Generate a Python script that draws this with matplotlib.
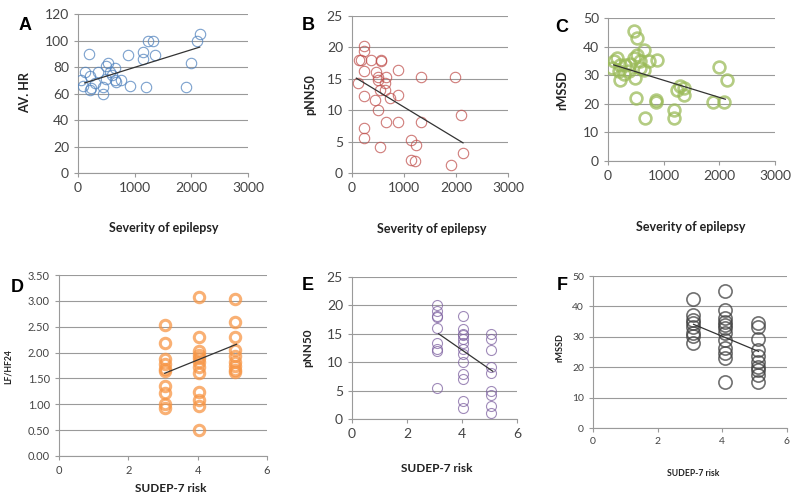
"""Six-panel HRV vs epilepsy severity / SUDEP-7 risk scatter figure."""
import numpy as np
import matplotlib
matplotlib.use("Agg")
import matplotlib.pyplot as plt

W, H = 800, 496
plt.rcParams.update({"font.family": ["Lato", "DejaVu Sans"], "font.size": 9})

# ---- data ----
a_sev = [200, 118, 60, 90, 206, 235, 206, 353, 440, 440, 500, 530, 500, 560, 650, 676, 650,
         765, 882, 910, 1205, 1147, 1147, 1235, 1323, 1353, 1912, 2000, 2106, 2147, 300, 600]
a_hr = [90, 76, 70, 66, 73, 64, 63, 76, 65, 60, 81, 83, 71, 76, 79, 69, 70,
        70, 89, 66, 65, 91, 86, 100, 100, 89, 65, 83, 100, 105, 68, 74]
a_trend = ([118, 2147], [68, 95])

b_sev = [231, 231, 128, 180, 372, 564, 564, 115, 231, 231, 231, 231, 468, 500, 500, 660, 628,
         436, 500, 532, 532, 628, 724, 660, 885, 885, 885, 1333, 1333, 1141, 1237, 1141, 1205,
         1974, 1910, 2103, 2135]
b_pnn = [20.3, 19.5, 18, 18, 18, 18, 17.8, 14.3, 16.3, 12.2, 7.1, 5.5, 16.1, 15.3, 14.8, 15.3, 14.3,
         11.6, 10, 4.2, 13.2, 13.2, 11.9, 8.2, 12.4, 8.2, 16.4, 15.3, 8.2, 5.3, 4.5, 2.1, 1.9,
         15.3, 1.2, 9.3, 3.2]
b_trend = ([83, 2135], [15.1, 4.8])

c_sev = [102, 72, 162, 222, 222, 192, 311, 371, 461, 521, 521, 461, 581, 581, 491, 509, 641,
         641, 671, 731, 880, 868, 868, 1180, 1180, 1240, 1299, 1359, 1359, 1988, 2138, 1886, 2078,
         400, 280]
c_rmssd = [34.8, 32.5, 36, 33.7, 28.4, 31.3, 33.7, 31.3, 45.3, 43, 37.1, 36, 34.8, 32.5, 29, 22, 38.9,
           31.9, 15, 34.8, 35.4, 20.8, 21.4, 17.9, 15, 24.9, 26.1, 23.2, 25.5, 33, 28.4, 20.8, 20.8,
           34, 30.5]
c_trend = ([102, 2108], [33.6, 21.6])

d_x = [3.06] * 10 + [4.03] * 12 + [5.09] * 9
d_lfhf = [2.53, 2.19, 1.87, 1.77, 1.69, 1.64, 1.35, 1.21, 1.01, 0.93,
          3.08, 2.31, 2.03, 1.95, 1.89, 1.82, 1.72, 1.60, 1.24, 1.09, 0.96, 0.50,
          3.03, 2.60, 2.31, 2.05, 1.93, 1.82, 1.74, 1.67, 1.63]
d_trend = ([3.05, 5.12], [1.6, 2.16])

e_x = [3.1] * 9 + [4.05] * 13 + [5.07] * 9
e_pnn = [20, 19.1, 18.1, 17.9, 16.1, 13.3, 12.4, 12, 5.5,
         18.1, 15.9, 15.0, 14.8, 14, 13.3, 12.4, 11.5, 10.1, 8, 7.1, 3.2, 1.9,
         15, 14, 12.1, 9.1, 8.1, 5, 4.2, 2.3, 1.1]
e_trend = ([3.15, 5.12], [15.0, 8.4])

f_x = [3.1] * 8 + [4.08] * 12 + [5.1] * 10
f_rmssd = [42.3, 37.2, 35.6, 34.5, 33.2, 31.4, 30.1, 28.1,
           45.2, 38.8, 36.1, 35, 33.9, 32.8, 31.2, 29, 26.3, 24.6, 23, 15,
           34.7, 33.2, 29.2, 25.7, 23.7, 21.6, 20.2, 19.1, 17.5, 15]
f_trend = ([3.11, 5.12], [34.1, 25.2])


def fx(x): return x / W
def fy(y): return 1 - y / H


def panel(rect, x, y, trend, color, mew, ms, xlim, xticks, ylim, yticks, yfmt, tick_fs,
          letter, lpos, ylab, ypos, xlab, xpos, ylab_fs, xlab_fs):
    l, t, r, b = rect
    ax = fig.add_axes([fx(l), fy(b), fx(r - l), (b - t) / H])
    ax.plot(x, y, "o", ms=ms, mfc="none", mec=color, mew=mew, alpha=0.75, zorder=3)
    ax.plot(trend[0], trend[1], color="#333333", lw=0.9, zorder=4)
    ax.set_xlim(*xlim); ax.set_ylim(*ylim)
    ax.set_xticks(xticks); ax.set_yticks(yticks)
    ax.set_yticklabels([yfmt.format(v) for v in yticks])
    ax.grid(axis="y", color="#9a9a9a", lw=0.8)
    ax.set_axisbelow(True)
    for s in ("top", "right"):
        ax.spines[s].set_visible(False)
    for s in ("left", "bottom"):
        ax.spines[s].set_color("#9a9a9a"); ax.spines[s].set_linewidth(0.8)
    ax.tick_params(colors="#9a9a9a", labelcolor="#444444", labelsize=tick_fs, length=3, width=0.8)
    ax.patch.set_alpha(0)
    fig.text(fx(lpos[0]), fy(lpos[1]), letter, fontsize=13, fontweight="bold",
             family="Liberation Sans", ha="center", va="center")
    fig.text(fx(ypos[0]), fy(ypos[1]), ylab, fontsize=ylab_fs, fontweight="bold", rotation=90,
             ha="center", va="center", color="#222222")
    fig.text(fx(xpos[0]), fy(xpos[1]), xlab, fontsize=xlab_fs, fontweight="bold",
             ha="center", va="center", color="#222222")
    return ax


fig = plt.figure(figsize=(W / 100, H / 100), dpi=100)
sev_ticks = [0, 1000, 2000, 3000]
risk_ticks = [0, 2, 4, 6]

panel((78, 14, 248, 173), a_sev, a_hr, a_trend, "#4f81bd", 0.8, 7.5, (0, 3000), sev_ticks,
      (0, 120), list(range(0, 121, 20)), "{:d}", 10, "A", (25, 25), "AV. HR", (25, 93),
      "Severity of epilepsy", (164, 228), 9, 9)
panel((352, 16, 508, 173), b_sev, b_pnn, b_trend, "#c0504d", 0.8, 7.5, (0, 3000), sev_ticks,
      (0, 25), list(range(0, 26, 5)), "{:d}", 10, "B", (308, 25), "pNN50", (310, 95),
      "Severity of epilepsy", (432, 229), 9, 9)
panel((608, 18, 775, 161), c_sev, c_rmssd, c_trend, "#9bbb59", 1.9, 8.5, (0, 3000), sev_ticks,
      (0, 50), list(range(0, 51, 10)), "{:d}", 10, "C", (562, 28), "rMSSD", (562, 90),
      "Severity of epilepsy", (691, 227), 9, 9)
panel((59, 275, 267, 456), d_x, d_lfhf, d_trend, "#f79646", 2.2, 7.5, (0, 6), risk_ticks,
      (0, 3.5), list(np.arange(0, 3.51, 0.5)), "{:.2f}", 8, "D", (17, 287), "LF/HF24", (8, 367),
      "SUDEP-7 risk", (171, 488), 6.2, 8.5)
panel((352, 277, 517, 419), e_x, e_pnn, e_trend, "#8064a2", 0.8, 7.2, (0, 6), risk_ticks,
      (0, 25), list(range(0, 26, 5)), "{:d}", 10, "E", (308, 285), "pNN50", (308, 348),
      "SUDEP-7 risk", (437, 468), 8.5, 8.5)
panel((593, 276, 787, 428), f_x, f_rmssd, f_trend, "#404040", 1.2, 9.5, (0, 6), risk_ticks,
      (0, 50), list(range(0, 51, 10)), "{:d}", 7.5, "F", (562, 285), "rMSSD", (560, 348),
      "SUDEP-7 risk", (693, 473), 6.5, 6.2)

fig.savefig("out.png", dpi=100)
